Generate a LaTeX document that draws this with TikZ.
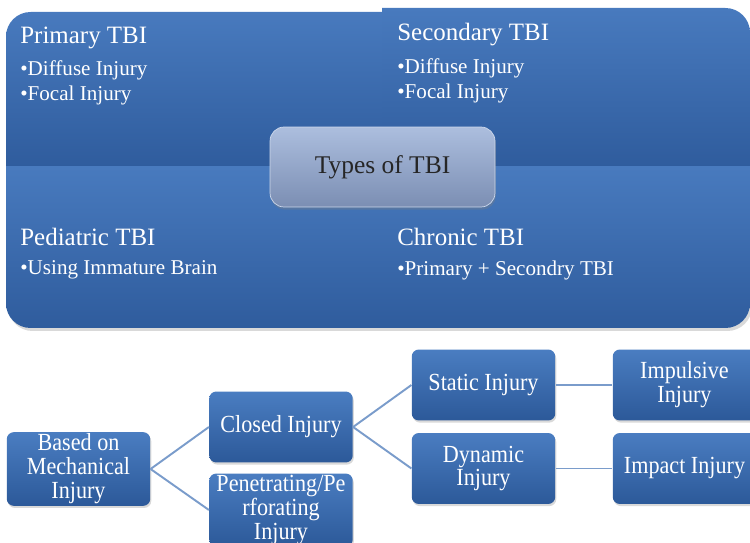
\documentclass[tikz,border=0pt]{standalone}
\usepackage{fontspec}
\setmainfont{Liberation Serif}
\newfontfamily\boxfont{Liberation Serif}[FakeStretch=0.9]
\usepackage{xcolor}
\usetikzlibrary{positioning,shadows}

\definecolor{panelTop}{RGB}{72,122,190}
\definecolor{panelBot}{RGB}{47,92,157}
\definecolor{boxTop}{RGB}{74,125,193}
\definecolor{boxBot}{RGB}{44,89,153}
\definecolor{hubTop}{RGB}{172,190,222}
\definecolor{hubBot}{RGB}{123,142,179}
\definecolor{linkBlue}{RGB}{122,156,203}

\begin{document}
\begin{tikzpicture}[
		x=0.02cm, y=-0.02cm,
		quad/.style={top color=panelTop, bottom color=panelBot},
		title/.style={anchor=west, inner sep=0pt, text=white, font=\fontsize{14.2}{16}\selectfont},
		item/.style={anchor=west, inner sep=0pt, text=white, font=\fontsize{12}{14}\selectfont},
		hub/.style={rounded corners=8pt, draw=hubTop!60!white, top color=hubTop, bottom color=hubBot,
			minimum width=4.5cm, minimum height=1.6cm, text=black!85, font=\fontsize{14.5}{16}\selectfont,
			drop shadow={opacity=0.35, shadow xshift=0.5pt, shadow yshift=-1.5pt}},
		box/.style={rounded corners=4pt, top color=boxTop, bottom color=boxBot,
			minimum width=2.87cm, minimum height=1.42cm, inner sep=1pt, align=center, text=white,
			font=\boxfont\fontsize{14}{13.6}\selectfont,
			drop shadow={opacity=0.3, shadow xshift=0.6pt, shadow yshift=-1.2pt}},
		link/.style={draw=linkBlue, line width=1.1pt}
		]
	
		\useasboundingbox (0,0) rectangle (750,543);
		\clip (0,0) rectangle (750,543);
	
		% --- Panneau du haut : quatre types ---
		\fill[black, opacity=0.15, rounded corners=14pt] (8,15) rectangle (752,331);
		\begin{scope}
			\clip[rounded corners=14pt] (6,12) rectangle (440,328);
			\path[quad] (6,12) rectangle (382,167);
			\path[quad] (6,167) rectangle (382,328);
		\end{scope}
		\begin{scope}
			\clip[rounded corners=14pt] (320,8) rectangle (750,328);
			\path[quad] (382,8) rectangle (750,167);
			\path[quad] (382,167) rectangle (750,328);
		\end{scope}
	
		\node[title] (PT) at (20,38) {Primary TBI};
		\node[item] (PT1) at (20,70) {•Diffuse Injury};
		\node[item] (PT2) at (20,95) {•Focal Injury};
	
		\node[title] (ST) at (397,35) {Secondary TBI};
		\node[item] (ST1) at (397,68) {•Diffuse Injury};
		\node[item] (ST2) at (397,93) {•Focal Injury};
	
		\node[title] (DT) at (20,237) {Pediatric TBI};
		\node[item] (DT1) at (20,270) {•Using Immature Brain};
	
		\node[title] (CT) at (397,237) {Chronic TBI};
		\node[item] (CT1) at (397,270) {•Primary + Secondry TBI};
	
		\node[hub] (T) at (382.5,167) {Types of TBI};
	
		% --- Arbre du bas : blessure mécanique ---
		\node[box] (M) at (78.5,469) {Based on\\Mechanical\\Injury};
		\node[box] (C) at (281,427) {Closed Injury};
		\node[box] (P) at (281,510) {Penetrating/Pe\\rforating\\Injury};
		\node[box] (S) at (483.5,385) {Static Injury};
		\node[box] (D) at (483.5,468.5) {Dynamic\\Injury};
		\node[box] (Im) at (684.5,385) {Impulsive\\Injury};
		\node[box] (Ip) at (684.5,468.5) {Impact Injury};
	
		% Liens
		\draw[link] (M.east) -- (C.west);
		\draw[link] (M.east) -- (P.west);
		\draw[link] (C.east) -- (S.west);
		\draw[link] (C.east) -- (D.west);
		\draw[link] (S) -- (Im);
		\draw[link] (D) -- (Ip);
	
	\end{tikzpicture}
\end{document}
